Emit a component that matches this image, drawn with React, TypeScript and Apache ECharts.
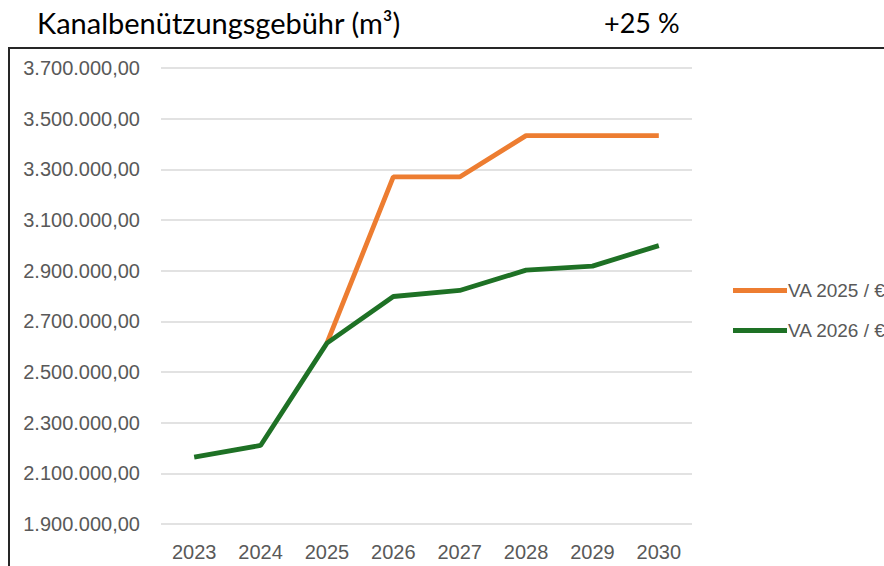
import React, { useEffect, useRef } from "react";
import * as echarts from "echarts";

const categories = ["2023", "2024", "2025", "2026", "2027", "2028", "2029", "2030"];
const seriesNames = ["VA 2025 / €", "VA 2026 / €"];
const va2025 = [null, null, 2614000, 3270000, 3270000, 3433000, 3433000, 3433000];
const va2026 = [2164000, 2210000, 2614000, 2798000, 2822000, 2902000, 2918000, 2999000];
const titleText = "Kanalbenützungsgebühr (m³)";
const changeText = "+25 %";
const yMin = 1900000;
const yMax = 3700000;
const yStep = 200000;

function fmtDE(v: number): string {
  const s = Math.round(v).toString();
  const withDots = s.replace(/\B(?=(\d{3})+(?!\d))/g, ".");
  return withDots + ",00";
}

export default function App() {
  const ref = useRef<HTMLDivElement>(null);
  useEffect(() => {
    if (!ref.current) return;
    const chart = echarts.init(ref.current, null, { renderer: "svg" });
    const gray = "#595959";
    const titleStyle = { fontFamily: "Lato", fontSize: 29, fontWeight: "normal", color: "#000000" };
    chart.setOption({
      animation: false,
      backgroundColor: "#ffffff",
      title: [
        { text: titleText, left: 37, top: 8, padding: 0, textStyle: titleStyle },
        { text: changeText, left: 604, top: 9, padding: 0, textStyle: { ...titleStyle, fontSize: 27 } },
      ],
      graphic: [
        {
          type: "rect",
          shape: { x: 9, y: 48, width: 1000, height: 600 },
          style: { fill: "none", stroke: "#262626", lineWidth: 2 },
          silent: true,
        },
      ],
      legend: {
        orient: "vertical",
        left: 728,
        top: 276,
        itemWidth: 54,
        itemHeight: 5,
        itemGap: 21,
        icon: "rect",
        data: seriesNames,
        textStyle: { fontFamily: "Liberation Sans", fontSize: 19, color: gray, padding: [0, 0, 0, -4] },
      },
      grid: { left: 161, right: 192, top: 68, bottom: 42, containLabel: false },
      xAxis: {
        type: "category",
        data: categories,
        boundaryGap: true,
        axisLine: { show: false },
        axisTick: { show: false },
        axisLabel: { fontFamily: "Liberation Sans", fontSize: 20, color: gray, margin: 18 },
      },
      yAxis: {
        type: "value",
        min: yMin,
        max: yMax,
        interval: yStep,
        axisLine: { show: false },
        axisTick: { show: false },
        splitLine: { lineStyle: { color: "#d9d9d9", width: 1.5 } },
        axisLabel: {
          fontFamily: "Liberation Sans",
          fontSize: 20,
          color: gray,
          margin: 21,
          formatter: (v: number) => fmtDE(v),
        },
      },
      series: [
        {
          name: seriesNames[0],
          type: "line",
          data: va2025,
          symbol: "none",
          color: "#ED7D31",
          lineStyle: { width: 4.8, color: "#ED7D31" },
        },
        {
          name: seriesNames[1],
          type: "line",
          data: va2026,
          symbol: "none",
          color: "#1E7125",
          lineStyle: { width: 4.8, color: "#1E7125" },
        },
      ],
    });
    return () => chart.dispose();
  }, []);
  return (
    <div
      ref={ref}
      style={{ position: "fixed", left: 0, top: 0, width: 884, height: 566 }}
    />
  );
}
